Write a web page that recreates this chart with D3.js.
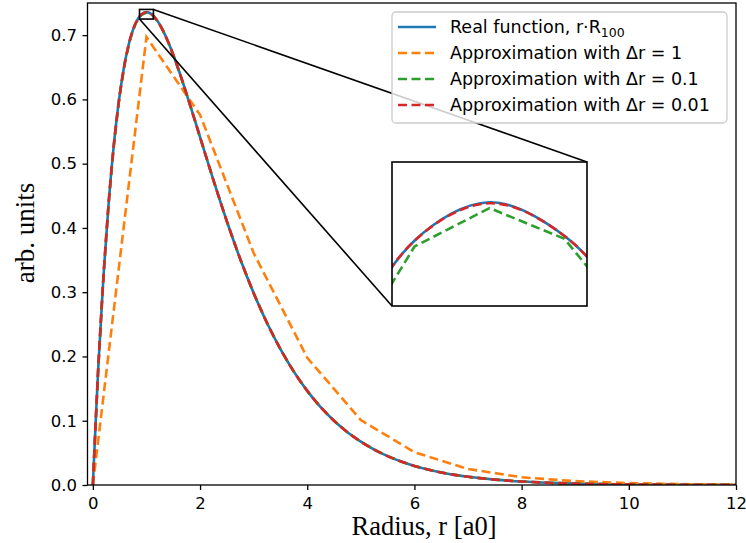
<!DOCTYPE html>
<html>
<head>
<meta charset="utf-8">
<script src="https://cdn.jsdelivr.net/npm/d3@7"></script>
<style>
    body { margin: 0; background: #fff; }
    svg { display: block; }
</style>
</head>
<body>
<svg width="746" height="543"></svg>
<script>
// radius grid shared by the fine curves
const radius = [
    0, 0.1, 0.2, 0.3, 0.4, 0.5, 0.6, 0.7, 0.8, 0.9, 1.0, 1.1, 1.2, 1.3, 1.4, 1.5, 1.6, 1.7, 1.8, 1.9, 2.0,
    2.25, 2.5, 2.75, 3.0, 3.25, 3.5, 3.75, 4.0, 4.25, 4.5, 4.75, 5.0, 5.25, 5.5, 5.75, 6.0, 6.25, 6.5, 6.75, 7.0,
    7.5, 8.0, 8.5, 9.0, 9.5, 10.0, 10.5, 11.0, 11.5, 12.0
];
const realValues = [
    0, 0.1810, 0.3275, 0.4445, 0.5363, 0.6065, 0.6586, 0.6952, 0.7189, 0.7318, 0.7358, 0.7323, 0.7229, 0.7086, 0.6905, 0.6694, 0.6461, 0.6211, 0.5951, 0.5684, 0.5413,
    0.4743, 0.4104, 0.3516, 0.2987, 0.2520, 0.2114, 0.1764, 0.1465, 0.1212, 0.1000, 0.0822, 0.0674, 0.0551, 0.0450, 0.0366, 0.0297, 0.0241, 0.0195, 0.0158, 0.0128,
    0.0083, 0.0054, 0.0035, 0.0022, 0.0014, 0.0009, 0.0006, 0.0004, 0.0002, 0.0001
];
const approx01Values = [
    0, 0.1808, 0.3272, 0.4442, 0.5359, 0.6061, 0.6581, 0.6947, 0.7184, 0.7312, 0.7352, 0.7320, 0.7224, 0.7081, 0.6900, 0.6690, 0.6457, 0.6208, 0.5947, 0.5680, 0.5410,
    0.4740, 0.4101, 0.3514, 0.2985, 0.2519, 0.2113, 0.1763, 0.1465, 0.1212, 0.0999, 0.0822, 0.0673, 0.0551, 0.0449, 0.0366, 0.0297, 0.0241, 0.0195, 0.0158, 0.0128,
    0.0083, 0.0054, 0.0035, 0.0022, 0.0014, 0.0009, 0.0006, 0.0004, 0.0002, 0.0001
];
const approx001Values = [
    0, 0.1810, 0.3275, 0.4445, 0.5362, 0.6065, 0.6585, 0.6952, 0.7189, 0.7318, 0.7357, 0.7323, 0.7228, 0.7086, 0.6904, 0.6694, 0.6460, 0.6211, 0.5951, 0.5683, 0.5413,
    0.4743, 0.4104, 0.3516, 0.2987, 0.2520, 0.2114, 0.1764, 0.1465, 0.1212, 0.1000, 0.0822, 0.0674, 0.0551, 0.0450, 0.0366, 0.0297, 0.0241, 0.0195, 0.0158, 0.0128,
    0.0083, 0.0054, 0.0035, 0.0022, 0.0014, 0.0009, 0.0006, 0.0004, 0.0002, 0.0001
];
// coarse approximation, step 1
const radiusCoarse = [0, 1, 2, 3, 4, 5, 6, 7, 8, 9, 10, 11, 12];
const approx1Values = [0, 0.697, 0.576, 0.361, 0.198, 0.101, 0.051, 0.025, 0.012, 0.006, 0.003, 0.0013, 0.0006];

const xTicks = [0, 2, 4, 6, 8, 10, 12];
const yTicks = [0.0, 0.1, 0.2, 0.3, 0.4, 0.5, 0.6, 0.7];
const legendLabels = ["Real function, r\u00b7R", "Approximation with \u0394r = 1", "Approximation with \u0394r = 0.1", "Approximation with \u0394r = 0.01"];
const colors = ["#1f77b4", "#ff7f0e", "#2ca02c", "#d62728"];
const zoomX = [0.87, 1.13];
const zoomY = [0.725, 0.74];

const svg = d3.select("svg");
const m = {left: 87.5, right: 736, top: 3, bottom: 485};
const lw = 2.6;
const dash = "9,4.5";

const x = d3.scaleLinear().domain([-0.1, 12]).range([m.left, m.right]);
const y = d3.scaleLinear().domain([0, 0.75]).range([m.bottom, m.top]);

svg.append("defs").append("clipPath").attr("id", "clipMain")
    .append("rect").attr("x", m.left).attr("y", m.top)
    .attr("width", m.right - m.left).attr("height", m.bottom - m.top);

const series = [
    {xs: radius, ys: realValues, color: colors[0], dashed: false, curve: d3.curveCatmullRom},
    {xs: radiusCoarse, ys: approx1Values, color: colors[1], dashed: true, curve: d3.curveLinear},
    {xs: radius, ys: approx01Values, color: colors[2], dashed: true, curve: d3.curveLinear},
    {xs: radius, ys: approx001Values, color: colors[3], dashed: true, curve: d3.curveCatmullRom}
];

function drawSeries(g, sx, sy) {
    series.forEach(s => {
        const line = d3.line()
            .x((d, i) => sx(s.xs[i]))
            .y(d => sy(d))
            .curve(s.curve);
        g.append("path")
            .attr("d", line(s.ys))
            .attr("fill", "none")
            .attr("stroke", s.color)
            .attr("stroke-width", lw)
            .attr("stroke-dasharray", s.dashed ? dash : null);
    });
}

drawSeries(svg.append("g").attr("clip-path", "url(#clipMain)"), x, y);

// axes
const xAxis = svg.append("g")
    .attr("transform", `translate(0,${m.bottom})`)
    .call(d3.axisBottom(x).tickValues(xTicks).tickSize(5).tickPadding(7).tickFormat(d3.format("d")));
const yAxis = svg.append("g")
    .attr("transform", `translate(${m.left},0)`)
    .call(d3.axisLeft(y).tickValues(yTicks).tickSize(5).tickPadding(5.5).tickFormat(d3.format(".1f")));
[xAxis, yAxis].forEach(a => {
    a.select(".domain").remove();
    a.selectAll(".tick line").attr("stroke", "#000").attr("stroke-width", 1.3);
    a.selectAll(".tick text")
        .attr("fill", "#000")
        .style("font-family", "DejaVu Sans")
        .style("font-size", "16.5px");
});

svg.append("rect")
    .attr("x", m.left).attr("y", m.top)
    .attr("width", m.right - m.left).attr("height", m.bottom - m.top)
    .attr("fill", "none").attr("stroke", "#000").attr("stroke-width", 1.3);

svg.append("text")
    .attr("x", 424).attr("y", 535)
    .attr("text-anchor", "middle")
    .style("font-family", "Liberation Serif")
    .style("font-size", "26.5px")
    .text("Radius, r [a0]");

svg.append("text")
    .attr("transform", "translate(34,233) rotate(-90)")
    .attr("text-anchor", "middle")
    .style("font-family", "Liberation Serif")
    .style("font-size", "27px")
    .text("arb. units");

// zoom indicator and inset
const inset = {left: 392, right: 587, top: 162, bottom: 306};
const xi = d3.scaleLinear().domain(zoomX).range([inset.left, inset.right]);
const yi = d3.scaleLinear().domain(zoomY).range([inset.bottom, inset.top]);

svg.append("rect")
    .attr("x", x(zoomX[0])).attr("y", y(zoomY[1]))
    .attr("width", x(zoomX[1]) - x(zoomX[0])).attr("height", y(zoomY[0]) - y(zoomY[1]))
    .attr("fill", "none").attr("stroke", "#000").attr("stroke-width", 1.6);

svg.append("line")
    .attr("x1", x(zoomX[1])).attr("y1", y(zoomY[1]))
    .attr("x2", inset.right).attr("y2", inset.top)
    .attr("stroke", "#000").attr("stroke-width", 1.6);
svg.append("line")
    .attr("x1", x(zoomX[0])).attr("y1", y(zoomY[0]))
    .attr("x2", inset.left).attr("y2", inset.bottom)
    .attr("stroke", "#000").attr("stroke-width", 1.6);

svg.select("defs").append("clipPath").attr("id", "clipInset")
    .append("rect").attr("x", inset.left).attr("y", inset.top)
    .attr("width", inset.right - inset.left).attr("height", inset.bottom - inset.top);

svg.append("rect")
    .attr("x", inset.left).attr("y", inset.top)
    .attr("width", inset.right - inset.left).attr("height", inset.bottom - inset.top)
    .attr("fill", "#fff");
drawSeries(svg.append("g").attr("clip-path", "url(#clipInset)"), xi, yi);
svg.append("rect")
    .attr("x", inset.left).attr("y", inset.top)
    .attr("width", inset.right - inset.left).attr("height", inset.bottom - inset.top)
    .attr("fill", "none").attr("stroke", "#000").attr("stroke-width", 1.6);

// legend
const legend = svg.append("g");
legend.append("rect")
    .attr("x", 392).attr("y", 12).attr("width", 335).attr("height", 111)
    .attr("rx", 4)
    .attr("fill", "#fff").attr("fill-opacity", 0.8)
    .attr("stroke", "#ccc").attr("stroke-width", 1.3);

legendLabels.forEach((label, i) => {
    const ly = 27 + i * 26;
    legend.append("line")
        .attr("x1", 398).attr("x2", 436)
        .attr("y1", ly).attr("y2", ly)
        .attr("stroke", colors[i]).attr("stroke-width", lw)
        .attr("stroke-dasharray", i === 0 ? null : dash);
    const t = legend.append("text")
        .attr("x", 450).attr("y", ly + 6)
        .style("font-family", "DejaVu Sans")
        .style("font-size", "17.5px")
        .text(label);
    if (i === 0) {
        t.append("tspan").attr("dy", 4).style("font-size", "12.5px").text("100");
    }
});
</script>
</body>
</html>
